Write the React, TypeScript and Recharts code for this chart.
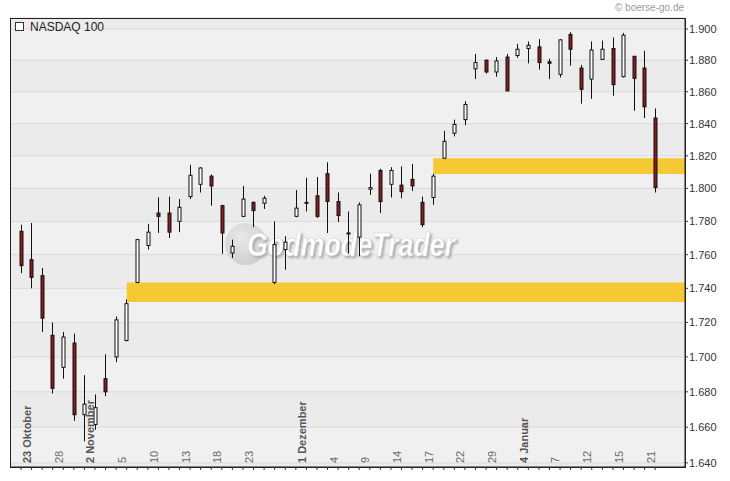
import React from "react";
import { ComposedChart, Bar, XAxis, YAxis, CartesianGrid, ReferenceArea, Customized } from "recharts";

const FONT = "'Liberation Sans', Arial, sans-serif";

// trading days, Oct 2009 - Jan 2010
const dates = [
  "23.10.", "26.10.", "27.10.", "28.10.", "29.10.", "30.10.",
  "02.11.", "03.11.", "04.11.", "05.11.", "06.11.", "09.11.", "10.11.", "11.11.", "12.11.", "13.11.",
  "16.11.", "17.11.", "18.11.", "19.11.", "20.11.", "23.11.", "24.11.", "25.11.", "27.11.", "30.11.",
  "01.12.", "02.12.", "03.12.", "04.12.", "07.12.", "08.12.", "09.12.", "10.12.", "11.12.", "14.12.",
  "15.12.", "16.12.", "17.12.", "18.12.", "21.12.", "22.12.", "23.12.", "24.12.", "29.12.", "30.12.",
  "31.12.", "04.01.", "05.01.", "06.01.", "07.01.", "08.01.", "11.01.", "12.01.", "13.01.", "14.01.",
  "15.01.", "19.01.", "20.01.", "21.01.", "22.01.",
];

const open = [
  1774, 1757, 1747.5, 1712.5, 1694, 1708, 1667, 1661.5, 1687.5, 1700, 1709.5, 1743.5, 1765.5, 1785, 1785, 1780,
  1795, 1802.5, 1807.5, 1789.5, 1761, 1783, 1791.5, 1791, 1743.5, 1763, 1783, 1791, 1795.5, 1809, 1792,
  1773, 1770.5, 1799.5, 1811, 1802.5, 1802, 1805.5, 1791.5, 1794.5, 1818.5, 1834, 1842.5, 1874.5, 1880,
  1872.5, 1882, 1883, 1887.5, 1888.5, 1879, 1871, 1896.5, 1875, 1868, 1880.5, 1887.5, 1869.5, 1882.5, 1875, 1843.5,
];
const high = [
  1778, 1779, 1752, 1720, 1714.5, 1713.5, 1689.5, 1678.5, 1701.5, 1723.5, 1733.5, 1769.5, 1778.5, 1794.5, 1795, 1793.5,
  1814.5, 1813, 1808.5, 1790, 1769, 1801.5, 1792, 1795.5, 1780, 1771, 1799, 1806.5, 1807, 1816, 1797.5,
  1786, 1791.5, 1809, 1812, 1813, 1813.5, 1815, 1795, 1809, 1835.5, 1842.5, 1854, 1884, 1880.5,
  1882, 1884, 1890.5, 1892, 1893.5, 1881, 1893.5, 1898, 1877, 1892, 1892.5, 1894.5, 1897.5, 1882.5, 1886, 1849.5,
];
const low = [
  1749, 1740, 1714.5, 1679, 1687.5, 1663.5, 1652, 1658.5, 1677.5, 1697, 1709, 1743, 1763, 1773, 1770, 1773.5,
  1793.5, 1797.5, 1789.5, 1760.5, 1758, 1782.5, 1776.5, 1787.5, 1742.5, 1751, 1782.5, 1786, 1782, 1773, 1779.5,
  1760.5, 1759, 1796, 1785, 1794.5, 1794, 1798.5, 1776.5, 1790, 1818, 1832, 1839, 1868, 1871.5,
  1869.5, 1860.5, 1881.5, 1878, 1874, 1868, 1869, 1876.5, 1852.5, 1855.5, 1880.5, 1857.5, 1869, 1848, 1843.5, 1797.5,
];
const close = [
  1753.5, 1746.5, 1722.5, 1682, 1711.5, 1667, 1673, 1671, 1680, 1721.5, 1731, 1769, 1773.5, 1783, 1773.5, 1788.5,
  1808, 1812.5, 1801.5, 1773, 1765, 1793.5, 1786.5, 1794, 1766, 1767.5, 1788, 1791.5, 1783, 1792, 1783.5,
  1772.5, 1790, 1800.5, 1792, 1811, 1798, 1801.5, 1778, 1807.5, 1829, 1839.5, 1852, 1878.5, 1872.5,
  1879.5, 1860.5, 1887, 1889.5, 1878.5, 1878, 1893, 1887, 1861.5, 1886.5, 1887, 1864.5, 1896, 1868.5, 1850.5, 1800.5,
];

const labelIdx = [0, 3, 6, 9, 12, 15, 18, 21, 26, 29, 32, 35, 38, 41, 44, 47, 50, 53, 56, 59];
const labelText = [
  "23 Oktober", "28", "2 November", "5", "10", "13", "18", "23", "1 Dezember", "4", "9", "14", "17", "22", "29",
  "4 Januar", "7", "12", "15", "21",
];

const yTicks = [1640, 1660, 1680, 1700, 1720, 1740, 1760, 1780, 1800, 1820, 1840, 1860, 1880, 1900];

// support / resistance zones (start candle, lower and upper price)
const zoneStart = [10, 39];
const zoneLow = [1732, 1808.8];
const zoneHigh = [1743.5, 1818.5];

const data = dates.map((d, i) => ({
  i,
  d,
  o: open[i],
  h: high[i],
  l: low[i],
  c: close[i],
  range: [low[i], high[i]],
}));

const fmt = (v: number) => `${Math.floor(v / 1000)}.${String(v % 1000).padStart(3, "0")}`;

const Candle = (props: any) => {
  const { x, y, width, height, payload } = props;
  const cx = Math.round(x + width / 2) + 0.5;
  const { o, h, l, c } = payload;
  const span = Math.log(h) - Math.log(l);
  const py = (p: number) => (span > 0 ? y + ((Math.log(h) - Math.log(p)) / span) * height : y);
  const top = py(Math.max(o, c));
  const bot = py(Math.min(o, c));
  const up = c >= o;
  return (
    <g>
      <line x1={cx} x2={cx} y1={py(h)} y2={py(l)} stroke="#111" strokeWidth={1} />
      <rect
        x={cx - 1.5}
        y={top}
        width={3}
        height={Math.max(1, bot - top)}
        fill={up ? "#ffffff" : "#8a1b1b"}
        stroke="#111"
        strokeWidth={1}
      />
    </g>
  );
};

const XTick = (props: any) => {
  const { x, y, payload } = props;
  const k = labelIdx.indexOf(payload.value);
  if (k < 0) return <g />;
  const txt = labelText[k];
  const month = txt.includes(" ");
  return (
    <text
      transform={`translate(${x + 10},${y - 9}) rotate(-90)`}
      textAnchor="start"
      fontFamily={FONT}
      fontSize={11}
      fontWeight={month ? "bold" : "normal"}
      fill={month ? "#555" : "#6a6a6a"}
    >
      {txt}
    </text>
  );
};

const Watermark = () => (
  <g>
    <defs>
      <radialGradient id="wmG" cx="40%" cy="35%" r="70%">
        <stop offset="0%" stopColor="#e6e6e6" />
        <stop offset="100%" stopColor="#c9c9c9" />
      </radialGradient>
      <filter id="wmShadow" x="-10%" y="-30%" width="130%" height="170%">
        <feDropShadow dx="2" dy="2" stdDeviation="1" floodColor="#a8a8a8" floodOpacity="0.9" />
      </filter>
    </defs>
    <circle cx={246} cy={244} r={21} fill="url(#wmG)" opacity={0.85} />
    <text
      x={247}
      y={256}
      fontFamily={FONT}
      fontStyle="italic"
      fontWeight="bold"
      fontSize={34}
      textLength={208}
      lengthAdjust="spacingAndGlyphs"
      fill="#ffffff"
      stroke="#d0d0d0"
      strokeWidth={0.5}
      filter="url(#wmShadow)"
    >
      GodmodeTrader
    </text>
  </g>
);

const Frame = () => (
  <g>
    <rect x={10.5} y={18.5} width={675} height={449} fill="none" stroke="#222" strokeWidth={1} />
    <rect x={15.5} y={22.5} width={8} height={8} fill="#fff" stroke="#333" strokeWidth={1} />
    <text x={30} y={31} fontFamily={FONT} fontSize={12} fill="#222">
      NASDAQ 100
    </text>
    <text x={684} y={11} textAnchor="end" fontFamily={FONT} fontSize={10} fill="#9a9a9a">
      © boerse-go.de
    </text>
  </g>
);

export default function App() {
  return (
    <div style={{ position: "absolute", left: 0, top: 0, width: 730, height: 481, background: "#fff" }}>
      <ComposedChart
        width={730}
        height={481}
        data={data}
        margin={{ top: 18, right: 0, bottom: 0, left: 10 }}
      >
        <CartesianGrid
          vertical={false}
          stroke="#dadada"
          horizontalFill={["#ebebeb", "#f0f0f0"]}
          fillOpacity={1}
        />
        <Customized component={Watermark} />
        <XAxis
          dataKey="i"
          type="number"
          domain={[-1.04, 62.82]}
          ticks={data.map((p) => p.i)}
          interval={0}
          height={14}
          tick={<XTick />}
          tickSize={3}
          tickMargin={2}
          axisLine={{ stroke: "#222" }}
          tickLine={{ stroke: "#333" }}
          allowDataOverflow
        />
        <YAxis
          orientation="right"
          scale="log"
          domain={[1637.7, 1907.1]}
          ticks={yTicks}
          width={45}
          allowDataOverflow
          tickFormatter={fmt}
          tick={{ fontSize: 11, fill: "#333", fontFamily: FONT }}
          tickSize={3}
          tickMargin={1}
          axisLine={{ stroke: "#222" }}
          tickLine={{ stroke: "#333" }}
        />
        {zoneStart.map((s, k) => (
          <ReferenceArea
            key={k}
            x1={s}
            y1={zoneLow[k]}
            y2={zoneHigh[k]}
            fill="#f4c934"
            fillOpacity={1}
            stroke="none"
          />
        ))}
        <Bar dataKey="range" barSize={4} shape={<Candle />} isAnimationActive={false} />
        <Customized component={Frame} />
      </ComposedChart>
    </div>
  );
}
